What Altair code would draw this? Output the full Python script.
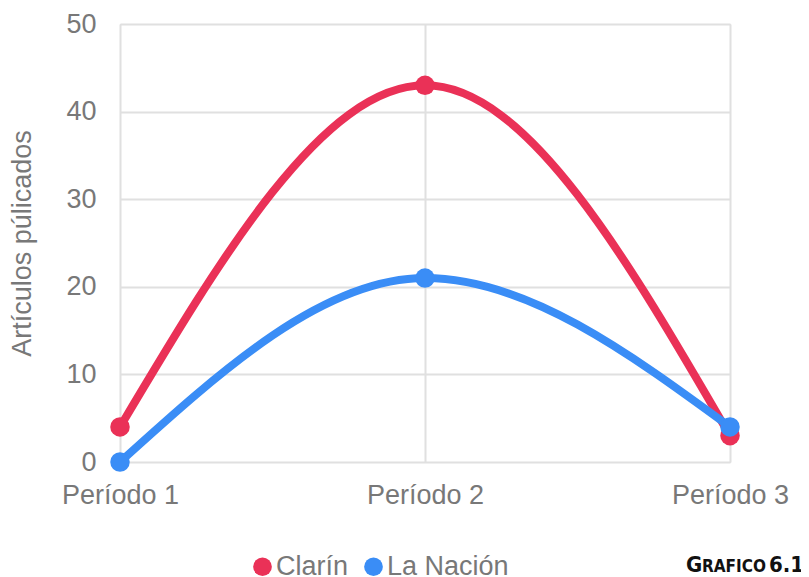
import altair as alt
import pandas as pd

periods = ["Período 1", "Período 2", "Período 3"]
clarin = [4, 43, 3]
nacion = [0, 21, 4]
series = ["Clarín", "La Nación"]
colors = ["#EA3157", "#3A8DF6"]

rows = []
for p, v in zip(periods, clarin):
    rows.append({"periodo": p, "medio": "Clarín", "articulos": v})
for p, v in zip(periods, nacion):
    rows.append({"periodo": p, "medio": "La Nación", "articulos": v})
df = pd.DataFrame(rows)

FONT = "Liberation Sans"
GRAY = "#787878"
GRID = "#E0E0E0"

x = alt.X("periodo:N", sort=periods, title=None,
          scale=alt.Scale(type="point", padding=0),
          axis=alt.Axis(labelAngle=0, labelFontSize=27, labelColor=GRAY, labelFont=FONT,
                        labelPadding=20, domain=False, ticks=False, grid=True,
                        gridColor=GRID, gridWidth=2))
y = alt.Y("articulos:Q", title="Artículos púlicados",
          scale=alt.Scale(domain=[0, 50], nice=False),
          axis=alt.Axis(values=[0, 10, 20, 30, 40, 50], labelFontSize=27, labelColor=GRAY,
                        labelFont=FONT, labelPadding=24, domain=False, ticks=False,
                        gridColor=GRID, gridWidth=2, titleFontSize=27,
                        titleColor=GRAY, titleFont=FONT, titleFontWeight="normal",
                        titlePadding=29))
color = alt.Color("medio:N", scale=alt.Scale(domain=series, range=colors),
                  legend=alt.Legend(title=None, orient="none", legendX=129, legendY=529,
                                    direction="horizontal", symbolType="circle",
                                    symbolSize=350, symbolStrokeWidth=0, labelFontSize=27,
                                    labelColor=GRAY, labelFont=FONT, columnPadding=11,
                                    labelOffset=0, symbolOpacity=1))

base = alt.Chart(df)
lines = base.mark_line(interpolate="monotone", strokeWidth=8).encode(x=x, y=y, color=color)
points = base.mark_circle(size=380, opacity=1).encode(x=x, y=y, color=color)

label_df = pd.DataFrame({"t": ["GRAFICO 6.1"]})
TF = "DejaVu Sans Condensed"
g1 = alt.Chart(label_df).mark_text(text="G", font=TF, fontWeight="bold",
                                   fontSize=22, align="left", baseline="alphabetic",
                                   color="#111111").encode(x=alt.value(566), y=alt.value(548))
g2 = alt.Chart(label_df).mark_text(text="RAFICO", font=TF, fontWeight="bold",
                                   fontSize=17, align="left", baseline="alphabetic",
                                   color="#111111").encode(x=alt.value(582), y=alt.value(548))
g3 = alt.Chart(label_df).mark_text(text="6.1", font=TF, fontWeight="bold",
                                   fontSize=22, align="right", baseline="alphabetic",
                                   color="#111111").encode(x=alt.value(684), y=alt.value(548))

chart = alt.layer(lines, points, g1, g2, g3).properties(
    width=610, height=438,
    autosize=alt.AutoSizeParams(type="none"),
    padding={"left": 112, "top": 16, "right": 71, "bottom": 115},
).configure_view(stroke=GRID, strokeWidth=2).configure(background="white")

chart.save("out.html", embed_options={"renderer": "svg", "actions": False})
